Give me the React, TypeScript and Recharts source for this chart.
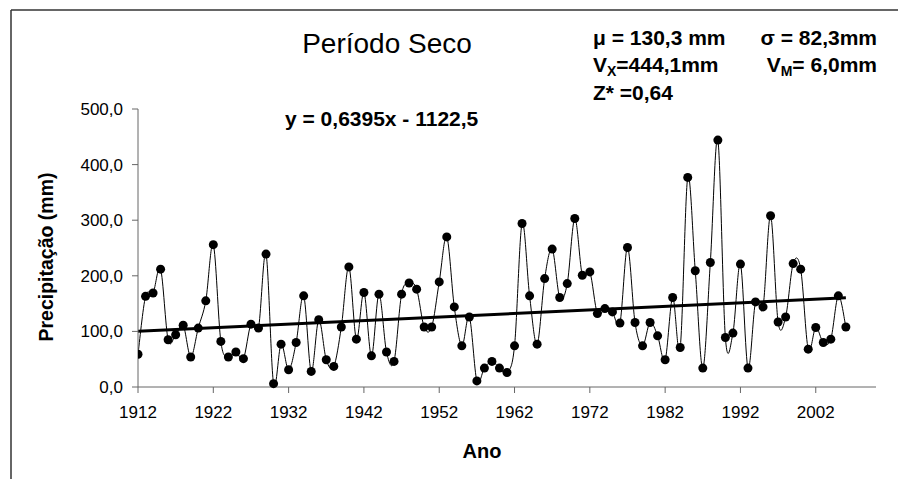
import { LineChart, Line, XAxis, YAxis, ReferenceLine } from "recharts";

const firstYear = 1912;

// precipitação do período seco, 1912 a 2006 (mm)
const precipitation = [
  59, 163, 169, 212, 85, 94, 111, 54, 106, 155,
  256, 82, 54, 63, 51, 113, 106, 239, 6, 77,
  31, 80, 164, 28, 121, 49, 37, 108, 216, 86,
  170, 56, 167, 63, 46, 167, 187, 176, 108, 108,
  189, 270, 144, 74, 126, 11, 34, 46, 34, 26,
  74, 294, 164, 77, 195, 248, 161, 186, 303, 201,
  207, 132, 141, 135, 115, 251, 116, 74, 116, 92,
  49, 161, 71, 377, 209, 34, 224, 444.1, 89, 97,
  221, 34, 153, 144, 308, 117, 126, 222, 212, 68,
  107, 80, 86, 164, 108,
];

const xTicks = [1912, 1922, 1932, 1942, 1952, 1962, 1972, 1982, 1992, 2002];
const yTicks = [0, 100, 200, 300, 400, 500];

// linha de tendência do Excel
const trendSlope = 0.6395;
const trendIntercept = -1122.5;
const trendYears = [1912, 2006];

const font = "'Liberation Sans', Arial, sans-serif";

// suavização parecida com a do Excel (bezier tipo catmull-rom)
function excelSmooth(context: any) {
  let pts: number[][] = [];
  return {
    areaStart() {},
    areaEnd() {},
    lineStart() {
      pts = [];
    },
    point(x: number, y: number) {
      pts.push([+x, +y]);
    },
    lineEnd() {
      if (!pts.length) return;
      context.moveTo(pts[0][0], pts[0][1]);
      for (let i = 0; i < pts.length - 1; i++) {
        const p0 = pts[i - 1] || pts[i];
        const p1 = pts[i];
        const p2 = pts[i + 1];
        const p3 = pts[i + 2] || p2;
        context.bezierCurveTo(
          p1[0] + (p2[0] - p0[0]) / 6,
          p1[1] + (p2[1] - p0[1]) / 6,
          p2[0] - (p3[0] - p1[0]) / 6,
          p2[1] - (p3[1] - p1[1]) / 6,
          p2[0],
          p2[1]
        );
      }
    },
  };
}

const fmt = (v: number) => v.toFixed(1).replace(".", ",");

export default function App() {
  const data = precipitation.map((value, i) => ({ year: firstYear + i, value }));
  const trend = trendYears.map((x) => ({ x, y: trendSlope * x + trendIntercept }));

  return (
    <div
      style={{
        position: "absolute",
        left: 0,
        top: 0,
        width: 901,
        height: 479,
        background: "#fff",
        fontFamily: font,
        overflow: "hidden",
      }}
    >
      <LineChart
        width={901}
        height={479}
        data={data}
        margin={{ top: 109, right: 25, bottom: 62, left: 68 }}
      >
        <XAxis
          dataKey="year"
          type="number"
          domain={[1912, 2010]}
          ticks={xTicks}
          allowDataOverflow
          height={30}
          stroke="#666"
          tickSize={6}
          tickMargin={13}
          tick={{ fill: "#000", fontSize: 17, fontFamily: font }}
        />
        <YAxis
          domain={[0, 500]}
          ticks={yTicks}
          width={70}
          stroke="#666"
          tickSize={6}
          tickMargin={9}
          tickFormatter={fmt}
          tick={{ fill: "#000", fontSize: 17, fontFamily: font }}
        />
        <ReferenceLine
          segment={trend}
          stroke="#000"
          strokeWidth={3}
          ifOverflow="visible"
        />
        <Line
          dataKey="value"
          type={excelSmooth as any}
          stroke="#000"
          strokeWidth={1}
          dot={{ r: 4.5, fill: "#000", stroke: "none" }}
          activeDot={false}
          isAnimationActive={false}
        />
      </LineChart>

      <svg
        width={901}
        height={479}
        style={{ position: "absolute", left: 0, top: 0, pointerEvents: "none" }}
        fontFamily={font}
      >
        <line x1={11} y1={10} x2={898} y2={10} stroke="#333" strokeWidth={1.5} />
        <line x1={11} y1={10} x2={11} y2={479} stroke="#333" strokeWidth={1.5} />

        <text x={387} y={53} textAnchor="middle" fontSize={28} fill="#000">
          Período Seco
        </text>
        <text x={285} y={126} fontSize={21} fontWeight="bold" fill="#000">
          y = 0,6395x - 1122,5
        </text>

        <g fontSize={21} fontWeight="bold" fill="#000">
          <text x={593} y={45}>μ = 130,3 mm</text>
          <text x={877} y={45} textAnchor="end">σ = 82,3mm</text>
          <text x={593} y={72}>
            V<tspan dy={4} fontSize={14}>X</tspan>
            <tspan dy={-4}>=444,1mm</tspan>
          </text>
          <text x={877} y={72} textAnchor="end">
            V<tspan dy={4} fontSize={14}>M</tspan>
            <tspan dy={-4}>= 6,0mm</tspan>
          </text>
          <text x={593} y={100}>Z* =0,64</text>
        </g>

        <text
          transform="translate(46,257) rotate(-90)"
          textAnchor="middle"
          dy="0.36em"
          fontSize={19.5}
          fontWeight="bold"
          fill="#000"
        >
          Precipitação (mm)
        </text>
        <text x={482} y={458} textAnchor="middle" fontSize={20} fontWeight="bold" fill="#000">
          Ano
        </text>
      </svg>
    </div>
  );
}
